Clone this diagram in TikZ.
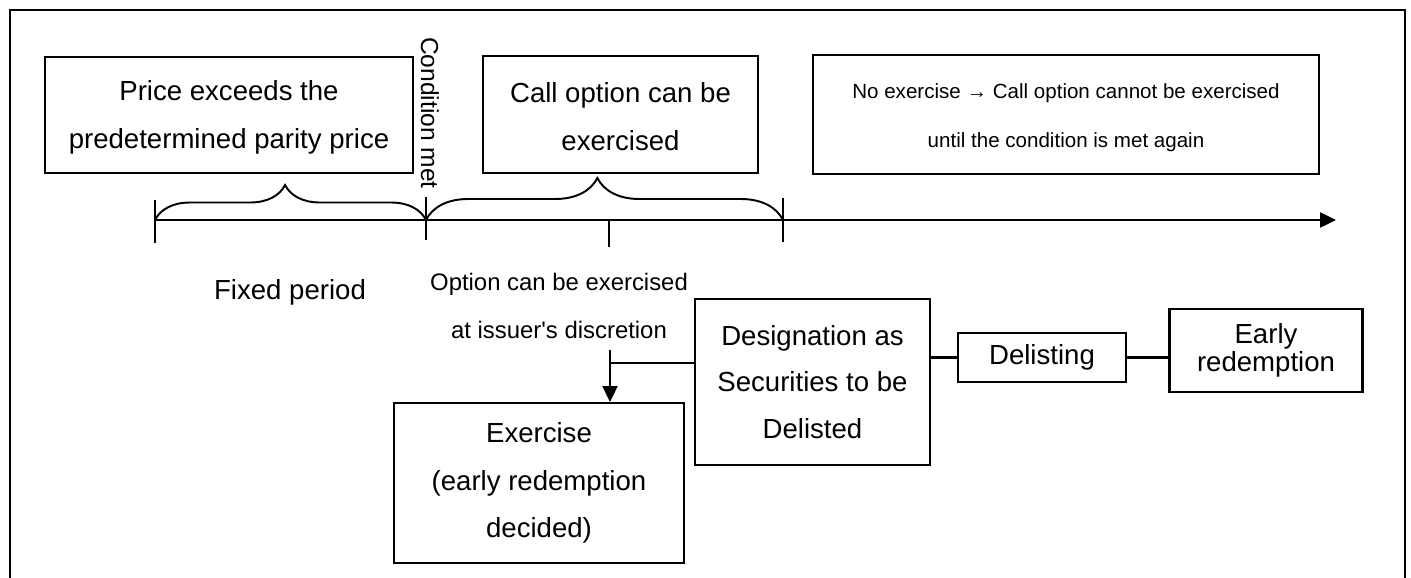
\documentclass[tikz,border=0pt]{standalone}
\usepackage{fontspec}
\setmainfont{Liberation Sans}
\usepackage{tikz}
\usetikzlibrary{arrows.meta,decorations.pathreplacing}

\begin{document}
\begin{tikzpicture}[x=0.02cm,y=-0.02cm,>={Triangle[length=9pt,width=8.5pt]}]

\definecolor{ink}{HTML}{000000} % black
\definecolor{paper}{HTML}{FFFFFF} % white

\tikzstyle{box}=[rectangle,draw=ink,fill=paper,line width=1.2pt,
	align=center,inner sep=0pt,text=ink]
\tikzstyle{big}=[font=\fontsize{15.7}{27}\selectfont]
\tikzstyle{small}=[font=\fontsize{11.7}{28}\selectfont]
\tikzstyle{note}=[align=center,text=ink,inner sep=0pt]
\tikzstyle{axis}=[->,draw=ink,line width=1.2pt]
\tikzstyle{tick}=[draw=ink,line width=1.2pt]
\tikzstyle{span}=[draw=ink,line width=1.1pt,decorate,
	decoration={brace,aspect=0.48}]
\tikzstyle{link}=[draw=ink,line width=1.2pt]

  \useasboundingbox (0,0) rectangle (1411,578);
  \draw [ink,line width=1.5pt] (10,578) -- (10,10) -- (1405,10) -- (1405,578);

  %% top row
  \node  (pr)  at (229,115)    [box,big,minimum width=7.36cm,minimum height=2.32cm]
         {\rule{0pt}{14pt}Price exceeds the\\predetermined parity price};
  \node  (co)  at (620.5,114.5) [box,big,minimum width=5.5cm,minimum height=2.34cm]
         {\rule{0pt}{14pt}Call option can be\\exercised};
  \node  (nx)  at (1066,114.5) [box,small,minimum width=10.12cm,minimum height=2.38cm]
         {\rule{0pt}{12pt}No exercise → Call option cannot be exercised\\until the condition is met again};

  \node  (cm)  at (430,113)    [note,rotate=-90,font=\fontsize{14}{14}\selectfont]
         {Condition met};

  %% time line
  \coordinate (t0)   at (155,220);
  \coordinate (tc)   at (426,220);
  \coordinate (tm)   at (609,220);
  \coordinate (te)   at (783,220);
  \coordinate (tend) at (1336,220);

  \draw [axis] (t0) -- (tend);
  \draw [tick] (t0) ++(0,-20) -- ++(0,43);
  \draw [tick] (tc) ++(0,-23) -- ++(0,43);
  \draw [tick] (tm) -- ++(0,27);
  \draw [tick] (te) ++(0,-22) -- ++(0,44);

  \draw [span,decoration={amplitude=0.7cm}]  (t0) -- (tc);
  \draw [span,decoration={amplitude=0.84cm}] (tc) -- (te);

  \node  (fp)  at (290,299)    [note,big,anchor=base] {Fixed period};
  \node  (opt) at (559,306)    [note,font=\fontsize{13.6}{27}\selectfont]
         {Option can be exercised\\at issuer\textquotesingle s discretion};

  %% lower row
  \node  (ex)  at (539,483)    [box,font=\fontsize{15.7}{27}\selectfont,
                                minimum width=5.8cm,minimum height=3.2cm]
         {Exercise\\(early redemption\\decided)};
  \node  (dsg) at (812.5,382)  [box,font=\fontsize{15.7}{26.5}\selectfont,
                                minimum width=4.7cm,minimum height=3.32cm]
         {Designation as\\Securities to be\\Delisted};
  \node  (dl)  at (1042,357.5) [box,big,minimum width=3.36cm,minimum height=0.98cm]
         {Delisting};
  \node  (er)  at (1266,350.5) [box,font=\fontsize{15.7}{16}\selectfont,
                                minimum width=3.86cm,minimum height=1.66cm]
         {Early\\redemption};

  \coordinate (jn) at (610,363);

  \path (dsg.west |- jn) edge [link] (jn)
        (dsg.east |- dl.west) edge [link] (dl.west)
        (dl.east) edge [link] (dl.east -| er.west);

  \draw [link,->] (jn) ++(0,-13) -- (jn |- ex.north);

\end{tikzpicture}
\end{document}
